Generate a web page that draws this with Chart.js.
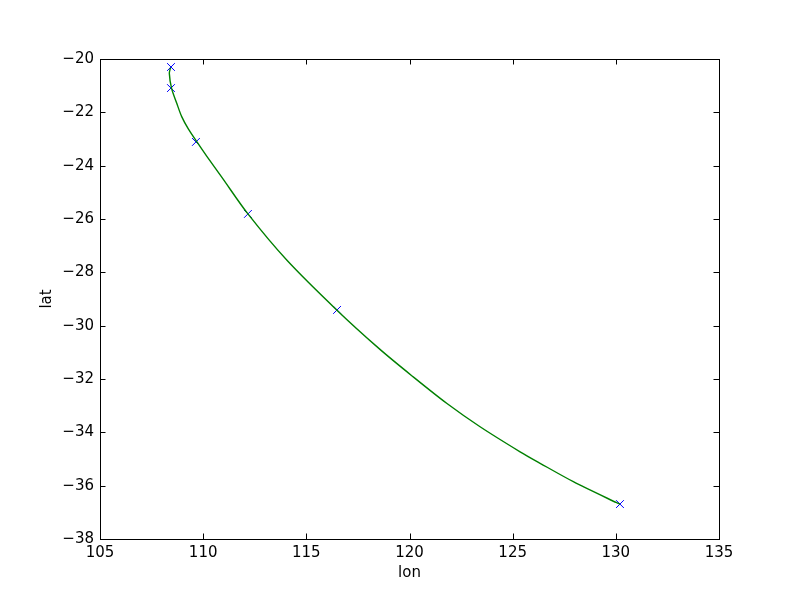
<!DOCTYPE html>
<html>
<head>
<meta charset="utf-8">
<script src="https://cdn.jsdelivr.net/npm/chart.js@4"></script>
<style>
  html, body { margin: 0; padding: 0; background: #fff; }
  canvas { display: block; }
</style>
</head>
<body>
<canvas id="grafico" width="800" height="600"></canvas>
<script>
// puntos observados (marcadores x)
const lonPuntos = [108.44, 108.44, 109.65, 112.17, 116.49, 130.20];
const latPuntos = [-20.30, -21.09, -23.11, -25.81, -29.41, -36.69];

// trayectoria (linea verde)
const lonCurva = [108.42, 108.36, 108.47, 108.72, 108.96, 109.28, 109.69, 110.17, 110.90, 112.17,
                  114.05, 116.47, 118.57, 120.18, 121.80, 123.42, 125.36, 126.33, 127.94, 130.04, 130.20];
const latCurva = [-20.32, -20.54, -21.10, -21.66, -22.16, -22.62, -23.10, -23.64, -24.43, -25.81,
                  -27.54, -29.41, -30.89, -31.92, -32.91, -33.79, -34.73, -35.16, -35.85, -36.64, -36.69];

const ticksX = [105, 110, 115, 120, 125, 130, 135];
const ticksY = [-38, -36, -34, -32, -30, -28, -26, -24, -22, -20];

const fuente = { family: 'DejaVu Sans', size: 15 };

function aPuntos(xs, ys) {
    return xs.map((x, i) => ({ x: x, y: ys[i] }));
}

function conMenos(v) {
    return String(v).replace('-', '\u2212');
}

// marco y marcas hacia dentro, al estilo clasico
const marcoPlugin = {
    id: 'marco',
    afterDraw(chart) {
        const ctx = chart.ctx;
        const a = chart.chartArea;
        const sx = chart.scales.x, sy = chart.scales.y;
        const largo = 5.5;
        ctx.save();
        ctx.strokeStyle = '#000';
        ctx.lineWidth = 1;
        ctx.beginPath();
        ticksX.forEach(v => {
            const px = Math.round(sx.getPixelForValue(v)) + 0.5;
            ctx.moveTo(px, a.bottom); ctx.lineTo(px, a.bottom - largo);
            ctx.moveTo(px, a.top); ctx.lineTo(px, a.top + largo);
        });
        ticksY.forEach(v => {
            const py = Math.round(sy.getPixelForValue(v)) + 0.5;
            ctx.moveTo(a.left, py); ctx.lineTo(a.left + largo, py);
            ctx.moveTo(a.right, py); ctx.lineTo(a.right - largo, py);
        });
        ctx.stroke();
        ctx.strokeRect(Math.round(a.left) + 0.5, Math.round(a.top) + 0.5,
                       Math.round(a.right - a.left), Math.round(a.bottom - a.top));
        ctx.restore();
    }
};

const fondoPlugin = {
    id: 'fondo',
    beforeDraw(chart) {
        const ctx = chart.ctx;
        ctx.save();
        ctx.fillStyle = '#fff';
        ctx.fillRect(0, 0, chart.width, chart.height);
        ctx.restore();
    }
};

new Chart(document.getElementById('grafico').getContext('2d'), {
    type: 'scatter',
    data: {
        datasets: [
            {
                label: 'trayectoria',
                data: aPuntos(lonCurva, latCurva),
                showLine: true,
                borderColor: '#008000',
                borderWidth: 1.4,
                pointRadius: 0,
                tension: 0.3
            },
            {
                label: 'puntos',
                data: aPuntos(lonPuntos, latPuntos),
                showLine: false,
                pointStyle: 'crossRot',
                pointRadius: 5.5,
                borderColor: '#0000ff',
                backgroundColor: '#0000ff',
                pointBorderWidth: 1
            }
        ]
    },
    options: {
        responsive: false,
        animation: false,
        layout: { padding: { top: 59, right: 81, left: 0, bottom: 0 } },
        plugins: { legend: { display: false }, tooltip: { enabled: false } },
        scales: {
            x: {
                type: 'linear',
                min: 105,
                max: 135,
                afterBuildTicks: s => { s.ticks = ticksX.map(v => ({ value: v })); },
                afterFit: s => { s.height = 61; },
                grid: { display: false, drawTicks: false },
                border: { display: false },
                ticks: { color: '#000', font: fuente, padding: 5, maxRotation: 0, callback: v => conMenos(v) },
                title: { display: true, text: 'lon', color: '#000', font: fuente, padding: { top: 0, bottom: 18 } }
            },
            y: {
                type: 'linear',
                min: -38,
                max: -20,
                afterBuildTicks: s => { s.ticks = ticksY.map(v => ({ value: v })); },
                afterFit: s => { s.width = 100; },
                grid: { display: false, drawTicks: false },
                border: { display: false },
                ticks: { color: '#000', font: fuente, padding: 6, callback: v => conMenos(v) },
                title: { display: true, text: 'lat', color: '#000', font: fuente, padding: { top: 38, bottom: 0 } }
            }
        }
    },
    plugins: [fondoPlugin, marcoPlugin]
});
</script>
</body>
</html>
